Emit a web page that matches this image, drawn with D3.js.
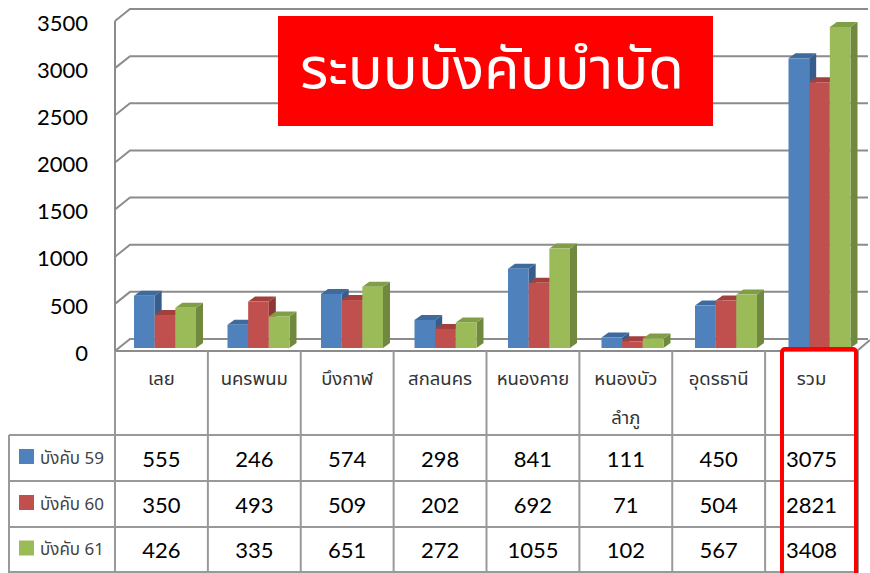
<!DOCTYPE html>
<html lang="th">
<head>
<meta charset="UTF-8">
<title>ระบบบังคับบำบัด</title>
<script src="https://d3js.org/d3.v7.min.js"></script>
<style>
    body { margin: 0; background: #fff; }
    .num { font-family: Lato, "Noto Sans", sans-serif; font-size: 22px; fill: #000; }
    .thai { font-family: Tahoma, "Noto Sans Thai", "Noto Sans", "DejaVu Sans", sans-serif; }
</style>
</head>
<body>
<script>
    const width = 870, height = 573;

    const categories = ["เลย", "นครพนม", "บึงกาฬ", "สกลนคร", "หนองคาย", "หนองบัวลำภู", "อุดรธานี", "รวม"];
    const catLines = [["เลย"], ["นครพนม"], ["บึงกาฬ"], ["สกลนคร"], ["หนองคาย"], ["หนองบัว", "ลำภู"], ["อุดรธานี"], ["รวม"]];
    const seriesNames = ["บังคับ 59", "บังคับ 60", "บังคับ 61"];
    const s59 = [555, 246, 574, 298, 841, 111, 450, 3075];
    const s60 = [350, 493, 509, 202, 692, 71, 504, 2821];
    const s61 = [426, 335, 651, 272, 1055, 102, 567, 3408];
    const yTicks = [0, 500, 1000, 1500, 2000, 2500, 3000, 3500];
    const title = "ระบบบังคับบำบัด";

    const seriesValues = [s59, s60, s61];
    const fills = ["#4F81BD", "#C0504D", "#9BBB59"];
    const sides = ["#385D8A", "#8C3836", "#71893F"];
    const tops  = ["#3F6A9E", "#A3403D", "#7F9E45"];

    const svg = d3.select("body").append("svg").attr("width", width).attr("height", height);

    // 3D depth of walls
    const dx = 15, dy = -12;
    const yFront = d3.scaleLinear().domain([0, 3500]).range([351, 21]);
    const yBar = d3.scaleLinear().domain([0, 3500]).range([348, 18.3]);

    const xTable = d3.scaleBand().domain(categories).range([115, 858]);
    const xBars = d3.scaleBand().domain(categories).range([134, 134 + 8 * 93.5]);
    const xSeries = d3.scaleBand().domain(seriesNames).range([0, 62]);

    const grid = svg.append("g").attr("stroke", "#8c8c8c").attr("stroke-width", 2).attr("fill", "none");
    grid.selectAll("path.grid")
        .data(yTicks)
        .enter().append("path").attr("class", "grid")
        .attr("d", d => `M115,${yFront(d)}L${115 + dx},${yFront(d) + dy}L868,${yFront(d) + dy}`);
    grid.append("line").attr("x1", 115).attr("x2", 115).attr("y1", yFront(3500)).attr("y2", yFront(0));
    grid.append("path").attr("d", `M115,${yFront(0)}L857,${yFront(0)}L870,${yFront(0) + dy + 1}`);

    svg.append("g").selectAll("text")
        .data(yTicks)
        .enter().append("text").attr("class", "num")
        .attr("x", 88).attr("y", d => yFront(d) + 2)
        .attr("text-anchor", "end").attr("dy", "0.35em")
        .text(d => d);

    // bars
    const bdx = 7, bdy = -5;
    const bw = xSeries.bandwidth();
    seriesNames.forEach((s, si) => {
        const g = svg.append("g");
        const vals = seriesValues[si];
        categories.forEach((c, ci) => {
            const x = xBars(c) + xSeries(s);
            const top = yBar(vals[ci]), bot = yBar(0);
            g.append("path").attr("fill", sides[si])
                .attr("d", `M${x + bw},${top}L${x + bw + bdx},${top + bdy}L${x + bw + bdx},${bot + bdy}L${x + bw},${bot}Z`);
            g.append("path").attr("fill", tops[si])
                .attr("d", `M${x},${top}L${x + bdx},${top + bdy}L${x + bw + bdx},${top + bdy}L${x + bw},${top}Z`);
            g.append("rect").attr("fill", fills[si])
                .attr("x", x).attr("y", top).attr("width", bw).attr("height", bot - top);
        });
    });

    // data table
    const rowY = [435, 481, 527, 572];
    const tbl = svg.append("g").attr("stroke", "#999").attr("stroke-width", 2);
    xTable.domain().concat(["end"]).forEach((c, i) => {
        const x = i < categories.length ? xTable(c) : 858;
        tbl.append("line").attr("x1", x).attr("x2", x).attr("y1", 351).attr("y2", 573);
    });
    tbl.append("line").attr("x1", 9).attr("x2", 9).attr("y1", 435).attr("y2", 573);
    rowY.forEach(y => tbl.append("line").attr("x1", 9).attr("x2", 858).attr("y1", y).attr("y2", y));

    const hdr = svg.append("g");
    categories.forEach((c, i) => {
        catLines[i].forEach((t, li) => {
            hdr.append("text").attr("class", "thai")
                .attr("x", xTable(c) + xTable.bandwidth() / 2)
                .attr("y", 379 + li * 39).attr("dy", "0.35em")
                .attr("text-anchor", "middle").attr("font-size", 18.5).attr("fill", "#333")
                .text(t);
        });
    });

    seriesNames.forEach((s, si) => {
        const cy = (rowY[si] + rowY[si + 1]) / 2;
        svg.append("rect").attr("x", 19).attr("y", cy - 9).attr("width", 15).attr("height", 15).attr("fill", fills[si]);
        svg.append("text").attr("class", "thai").attr("x", 40).attr("y", cy).attr("dy", "0.35em")
            .attr("font-size", 17).attr("fill", "#444").text(s);
        svg.append("g").selectAll("text")
            .data(seriesValues[si])
            .enter().append("text").attr("class", "num")
            .attr("x", (d, i) => xTable(categories[i]) + xTable.bandwidth() / 2)
            .attr("y", cy + 1).attr("dy", "0.35em").attr("text-anchor", "middle")
            .text(d => d);
    });

    // highlight around total column
    svg.append("rect").attr("x", 782).attr("y", 349).attr("width", 74).attr("height", 240)
        .attr("rx", 3).attr("fill", "none").attr("stroke", "#ff0000").attr("stroke-width", 4);

    // title box
    svg.append("rect").attr("x", 278).attr("y", 16).attr("width", 435).attr("height", 110).attr("fill", "#ff0000");
    svg.append("text").attr("class", "thai").attr("x", 492).attr("y", 88)
        .attr("text-anchor", "middle").attr("font-size", 58).attr("fill", "#fff")
        .text(title);
</script>
</body>
</html>
